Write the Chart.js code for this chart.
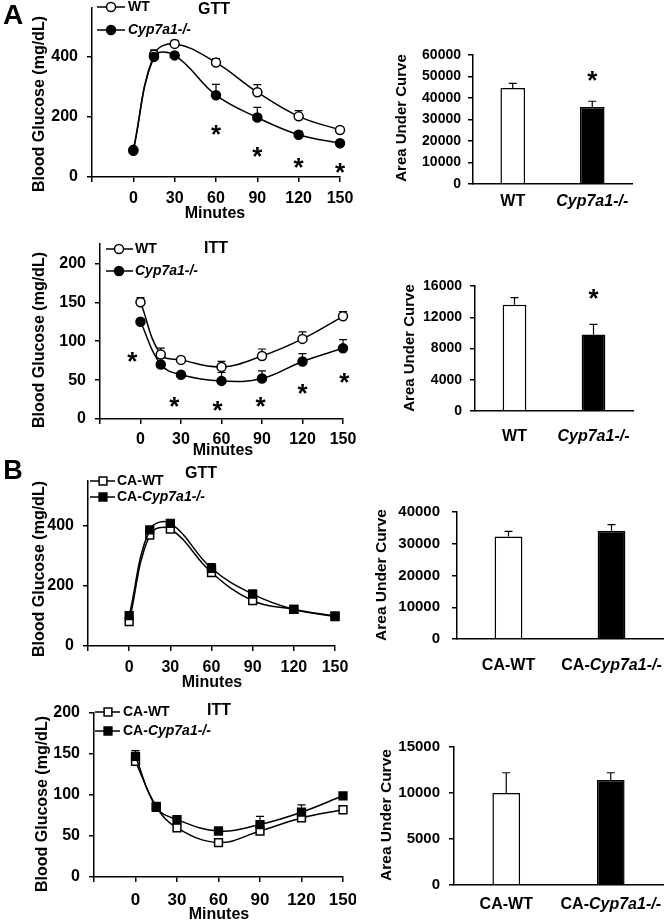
<!DOCTYPE html>
<html>
<head>
<meta charset="utf-8">
<script src="https://cdn.jsdelivr.net/npm/chart.js@4.4.0/dist/chart.umd.min.js"></script>
<style>
  html, body { margin: 0; padding: 0; background: #fff; }
  #fig { position: relative; width: 667px; height: 922px; overflow: hidden; }
  #fig canvas { position: absolute; }
</style>
</head>
<body>
<div id="fig"></div>
<script>
// ---- data ----
const GENE = 'Cyp7a1-/-';
const minutes = [0, 15, 30, 60, 90, 120, 150];
const minuteTicks = [-30, 0, 30, 60, 90, 120, 150];

// A - GTT
const namesA = ['WT', 'Cyp7a1-/-'];
const gttA_wt = [90, 405, 441, 379, 281, 201, 156];
const gttA_wtErr = [4, 16, 12, 13, 25, 19, 6];
const gttA_ko = [87, 398, 403, 271, 197, 140, 112];
const gttA_koErr = [4, 8, 6, 36, 34, 11, 5];
const gttA_yTicks = [0, 200, 400];
const gttA_starX = [60, 90, 120, 150];
const gttA_starY = [160, 87, 50, 33];

// A - ITT
const ittA_wt = [150, 83, 76, 67, 81, 103, 132];
const ittA_wtErr = [6, 8, 3, 7, 9, 9, 6];
const ittA_ko = [125, 70, 57, 49, 52, 74, 91];
const ittA_koErr = [3, 3, 3, 11, 10, 10, 11];
const ittA_yTicks = [0, 50, 100, 150, 200];
const ittA_starX = [-6, 25, 57, 89, 120, 151];
const ittA_starY = [82, 24, 18, 24, 40, 54];

// A - AUC
const aucA_gtt = [44600, 35800];
const aucA_gttErr = [2200, 2700];
const aucA_gttTicks = [0, 10000, 20000, 30000, 40000, 50000, 60000];
const aucA_gttStar = [50700];
const aucA_itt = [13600, 9800];
const aucA_ittErr = [900, 1300];
const aucA_ittTicks = [0, 4000, 8000, 12000, 16000];
const aucA_ittStar = [15100];

// B - GTT
const namesB = ['CA-WT', 'CA-Cyp7a1-/-'];
const gttB_wt = [81, 370, 390, 245, 151, 122, 100];
const gttB_wtErr = [3, 8, 8, 10, 5, 4, 3];
const gttB_ko = [101, 387, 409, 259, 173, 122, 98];
const gttB_koErr = [3, 8, 5, 16, 13, 4, 3];
const gttB_yTicks = [0, 200, 400];

// B - ITT
const ittB_wt = [141, 86, 60, 42, 56, 72, 82];
const ittB_wtErr = [4, 4, 3, 3, 6, 5, 4];
const ittB_ko = [147, 85, 70, 56, 64, 79, 99];
const ittB_koErr = [7, 5, 3, 5, 10, 9, 4];
const ittB_yTicks = [0, 50, 100, 150, 200];

// B - AUC
const aucB_gtt = [32300, 34100];
const aucB_gttErr = [1600, 1900];
const aucB_gttTicks = [0, 10000, 20000, 30000, 40000];
const aucB_itt = [10000, 11400];
const aucB_ittErr = [2200, 800];
const aucB_ittTicks = [0, 5000, 10000, 15000];

// ---- helpers ----
const FAMILY = '"Liberation Sans", Arial, sans-serif';
const font = (size, italic) => (italic ? 'italic ' : '') + 'bold ' + size + 'px ' + FAMILY;

// split a label so the gene name is set in italics
function parts(s) {
  const i = s.indexOf(GENE);
  if (i < 0) return [{ t: s, it: false }];
  return [
    { t: s.slice(0, i), it: false },
    { t: GENE, it: true },
    { t: s.slice(i + GENE.length), it: false }
  ].filter(p => p.t);
}

function rich(ctx, s, x, y, size, rot, align) {
  const ps = parts(s);
  ctx.save();
  ctx.translate(x, y);
  if (rot) ctx.rotate(rot);
  ctx.textBaseline = 'middle';
  ctx.textAlign = 'left';
  const ws = ps.map(p => { ctx.font = font(size, p.it); return ctx.measureText(p.t).width; });
  const total = ws.reduce((a, b) => a + b, 0);
  let cx = align === 'left' ? 0 : -total / 2;
  ps.forEach((p, i) => { ctx.font = font(size, p.it); ctx.fillText(p.t, cx, 0); cx += ws[i]; });
  ctx.restore();
}

// error bars, stars, legend and free text
const marks = {
  id: 'marks',
  beforeDatasetsDraw(chart, args, o) {
    const ctx = chart.ctx, ys = chart.scales.y;
    ctx.save();
    ctx.strokeStyle = '#000';
    ctx.lineWidth = 1.2;
    (o.errs || []).forEach((errs, i) => {
      const vals = chart.data.datasets[i].data;
      chart.getDatasetMeta(i).data.forEach((el, j) => {
        const v = typeof vals[j] === 'object' ? vals[j].y : vals[j];
        const top = ys.getPixelForValue(v + errs[j]);
        ctx.beginPath();
        ctx.moveTo(el.x, el.y);
        ctx.lineTo(el.x, top);
        ctx.moveTo(el.x - o.cap, top);
        ctx.lineTo(el.x + o.cap, top);
        ctx.stroke();
      });
    });
    ctx.restore();
  },
  afterDraw(chart, args, o) {
    const ctx = chart.ctx, b = o.box, xs = chart.scales.x, ys = chart.scales.y;
    ctx.save();
    ctx.fillStyle = '#000';
    (o.texts || []).forEach(t => rich(ctx, t.s, t.x - b.x0, t.y - b.y0, t.size, t.rot));
    if (o.catY) {
      chart.data.labels.forEach((l, i) => rich(ctx, l, xs.getPixelForValue(i), o.catY - b.y0, o.catSize));
    }
    if (o.starX) {
      ctx.font = font(o.starSize);
      ctx.textAlign = 'center';
      ctx.textBaseline = 'alphabetic';
      o.starX.forEach((x, i) => {
        ctx.fillText('*', xs.getPixelForValue(x), ys.getPixelForValue(o.starY[i]) + 0.55 * o.starSize);
      });
    }
    if (o.legend) {
      const L = o.legend;
      chart.data.datasets.forEach((ds, i) => {
        const y = L.ys[i] - b.y0;
        ctx.strokeStyle = '#000';
        ctx.lineWidth = 1.5;
        ctx.beginPath();
        ctx.moveTo(L.x0 - b.x0, y);
        ctx.lineTo(L.x1 - b.x0, y);
        ctx.stroke();
        ctx.fillStyle = ds.pointBackgroundColor;
        Chart.helpers.drawPoint(ctx, { pointStyle: ds.pointStyle, radius: ds.pointRadius, borderWidth: 1.5, rotation: 0 }, L.mx - b.x0, y);
        ctx.fillStyle = '#000';
        rich(ctx, ds.label, L.tx - b.x0, y, L.size, 0, 'left');
      });
    }
    ctx.restore();
  }
};

function makeCanvas(box) {
  const c = document.createElement('canvas');
  c.width = box.x1 - box.x0;
  c.height = box.y1 - box.y0;
  c.style.left = box.x0 + 'px';
  c.style.top = box.y0 + 'px';
  document.getElementById('fig').appendChild(c);
  return c;
}

const axisLine = { display: true, color: '#000', width: 1.5 };
const tickMarks = { display: true, drawOnChartArea: false, drawTicks: true, tickLength: 5, color: '#000', lineWidth: 1.5 };

function yAxis(box, max, ticks, size, pad) {
  return {
    type: 'linear', min: 0, max: max,
    afterBuildTicks: s => { s.ticks = ticks.map(v => ({ value: v })); },
    afterFit: s => { s.width = box.ax0 - box.x0; s.paddingTop = 0; s.paddingBottom = 0; },
    border: axisLine, grid: tickMarks,
    ticks: { color: '#000', autoSkip: false, padding: pad, font: { family: FAMILY, size: size, weight: 'bold' }, callback: v => String(v) }
  };
}

function layoutFor(box) {
  return { autoPadding: false, padding: { left: 0, top: box.ay0 - box.y0, right: box.x1 - box.ax1, bottom: 0 } };
}

function lineChart(box, o) {
  new Chart(makeCanvas(box), {
    type: 'line',
    data: {
      datasets: o.series.map((s, i) => ({
        label: o.names[i],
        data: minutes.map((m, j) => ({ x: m, y: s[j] })),
        borderColor: '#000', borderWidth: 1.5, tension: 0.4, clip: false,
        order: i === 0 ? 1 : 0,
        pointStyle: o.shape, pointRadius: o.r, pointBorderWidth: 1.5,
        pointBorderColor: '#000', pointBackgroundColor: i === 0 ? '#fff' : '#000'
      }))
    },
    options: {
      responsive: false, animation: false, events: [],
      layout: layoutFor(box),
      plugins: {
        legend: { display: false }, tooltip: { enabled: false },
        marks: {
          box: box, errs: o.errs, cap: 4, starX: o.starX, starY: o.starY, starSize: 26,
          legend: o.legend, texts: o.texts
        }
      },
      scales: {
        x: {
          type: 'linear', min: -30, max: 150,
          afterBuildTicks: s => { s.ticks = minuteTicks.map(v => ({ value: v })); },
          afterFit: s => { s.height = box.y1 - box.ay1; s.paddingLeft = 0; s.paddingRight = 0; },
          border: axisLine, grid: tickMarks,
          ticks: { color: '#000', autoSkip: false, maxRotation: 0, padding: o.xPad, font: { family: FAMILY, size: o.xSize, weight: 'bold' }, callback: v => v < 0 ? '' : String(v) }
        },
        y: yAxis(box, o.yMax, o.yTicks, 16, 9)
      }
    },
    plugins: [marks]
  });
}

function barChart(box, o) {
  new Chart(makeCanvas(box), {
    type: 'bar',
    data: {
      labels: o.names,
      datasets: [{
        data: o.vals, backgroundColor: ['#fff', '#000'], borderColor: '#000', borderWidth: 1.5,
        barPercentage: o.bw, categoryPercentage: 1
      }]
    },
    options: {
      responsive: false, animation: false, events: [],
      layout: layoutFor(box),
      plugins: {
        legend: { display: false }, tooltip: { enabled: false },
        marks: {
          box: box, errs: [o.errs], cap: 4, catY: o.catY, catSize: 16,
          starX: o.star ? [1] : null, starY: o.star, starSize: 26, texts: o.texts
        }
      },
      scales: {
        x: {
          type: 'category',
          afterFit: s => { s.height = box.y1 - box.ay1; s.paddingLeft = 0; s.paddingRight = 0; },
          border: axisLine, grid: { display: false }, ticks: { display: false }
        },
        y: yAxis(box, o.ticks[o.ticks.length - 1], o.ticks, o.tSize, o.tPad)
      }
    },
    plugins: [marks]
  });
}

const UP = -Math.PI / 2;
const YT = 'Blood Glucose (mg/dL)';
const AUC = 'Area Under Curve';

// ---- panel A ----
lineChart({ x0: 0, y0: 0, x1: 356, y1: 222, ax0: 92, ay0: 8, ax1: 340, ay1: 177 }, {
  names: namesA, series: [gttA_wt, gttA_ko], errs: [gttA_wtErr, gttA_koErr],
  shape: 'circle', r: 4.5, yMax: 560, yTicks: gttA_yTicks, xPad: 7, xSize: 16,
  starX: gttA_starX, starY: gttA_starY,
  legend: { x0: 97, x1: 125, mx: 111, tx: 128, ys: [7, 30], size: 14 },
  texts: [
    { s: 'A', x: 13, y: 16, size: 28 },
    { s: 'GTT', x: 214, y: 10, size: 16 },
    { s: YT, x: 40, y: 104, size: 16, rot: UP },
    { s: 'Minutes', x: 215, y: 214, size: 16 }
  ]
});

barChart({ x0: 360, y0: 30, x1: 667, y1: 222, ax0: 473, ay0: 55, ax1: 632, ay1: 184 }, {
  names: namesA, vals: aucA_gtt, errs: aucA_gttErr, ticks: aucA_gttTicks, tSize: 14, tPad: 7,
  bw: 0.31, catY: 202, star: aucA_gttStar,
  texts: [{ s: AUC, x: 402, y: 118, size: 15, rot: UP }]
});

lineChart({ x0: 0, y0: 222, x1: 356, y1: 460, ax0: 100, ay0: 244, ax1: 343, ay1: 419 }, {
  names: namesA, series: [ittA_wt, ittA_ko], errs: [ittA_wtErr, ittA_koErr],
  shape: 'circle', r: 4.5, yMax: 225, yTicks: ittA_yTicks, xPad: 6, xSize: 16,
  starX: ittA_starX, starY: ittA_starY,
  legend: { x0: 106, x1: 133, mx: 119, tx: 135, ys: [249, 271], size: 14 },
  texts: [
    { s: 'ITT', x: 216, y: 249, size: 16 },
    { s: YT, x: 40, y: 340, size: 16, rot: UP },
    { s: 'Minutes', x: 223, y: 451, size: 16 }
  ]
});

barChart({ x0: 360, y0: 270, x1: 667, y1: 460, ax0: 475, ay0: 286, ax1: 633, ay1: 411 }, {
  names: namesA, vals: aucA_itt, errs: aucA_ittErr, ticks: aucA_ittTicks, tSize: 14, tPad: 8,
  bw: 0.30, catY: 437, star: aucA_ittStar,
  texts: [{ s: AUC, x: 410, y: 348, size: 15, rot: UP }]
});

// ---- panel B ----
lineChart({ x0: 0, y0: 460, x1: 356, y1: 692, ax0: 88, ay0: 481, ax1: 335, ay1: 646 }, {
  names: namesB, series: [gttB_wt, gttB_ko], errs: [gttB_wtErr, gttB_koErr],
  shape: 'rect', r: 5.5, yMax: 550, yTicks: gttB_yTicks, xPad: 7, xSize: 16,
  legend: { x0: 90, x1: 115, mx: 103, tx: 117, ys: [481, 497], size: 14 },
  texts: [
    { s: 'B', x: 13, y: 472, size: 27 },
    { s: 'GTT', x: 201, y: 474, size: 16 },
    { s: YT, x: 40, y: 569, size: 16, rot: UP },
    { s: 'Minutes', x: 212, y: 683, size: 16 }
  ]
});

barChart({ x0: 360, y0: 490, x1: 667, y1: 692, ax0: 457, ay0: 512, ax1: 663, ay1: 639 }, {
  names: namesB, vals: aucB_gtt, errs: aucB_gttErr, ticks: aucB_gttTicks, tSize: 15, tPad: 12,
  bw: 0.27, catY: 666,
  texts: [{ s: AUC, x: 382, y: 575, size: 15.5, rot: UP }]
});

lineChart({ x0: 0, y0: 692, x1: 356, y1: 922, ax0: 94, ay0: 713, ax1: 343, ay1: 877 }, {
  names: namesB, series: [ittB_wt, ittB_ko], errs: [ittB_wtErr, ittB_koErr],
  shape: 'rect', r: 5.5, yMax: 200, yTicks: ittB_yTicks, xPad: 8, xSize: 17,
  legend: { x0: 95, x1: 120, mx: 108, tx: 123, ys: [712, 731], size: 14 },
  texts: [
    { s: 'ITT', x: 219, y: 711, size: 16 },
    { s: YT, x: 43, y: 804, size: 16, rot: UP },
    { s: 'Minutes', x: 219, y: 915, size: 16 }
  ]
});

barChart({ x0: 360, y0: 720, x1: 667, y1: 922, ax0: 454, ay0: 747, ax1: 663, ay1: 885 }, {
  names: namesB, vals: aucB_itt, errs: aucB_ittErr, ticks: aucB_ittTicks, tSize: 15, tPad: 9,
  bw: 0.265, catY: 905,
  texts: [{ s: AUC, x: 387, y: 815, size: 15.5, rot: UP }]
});
</script>
</body>
</html>
